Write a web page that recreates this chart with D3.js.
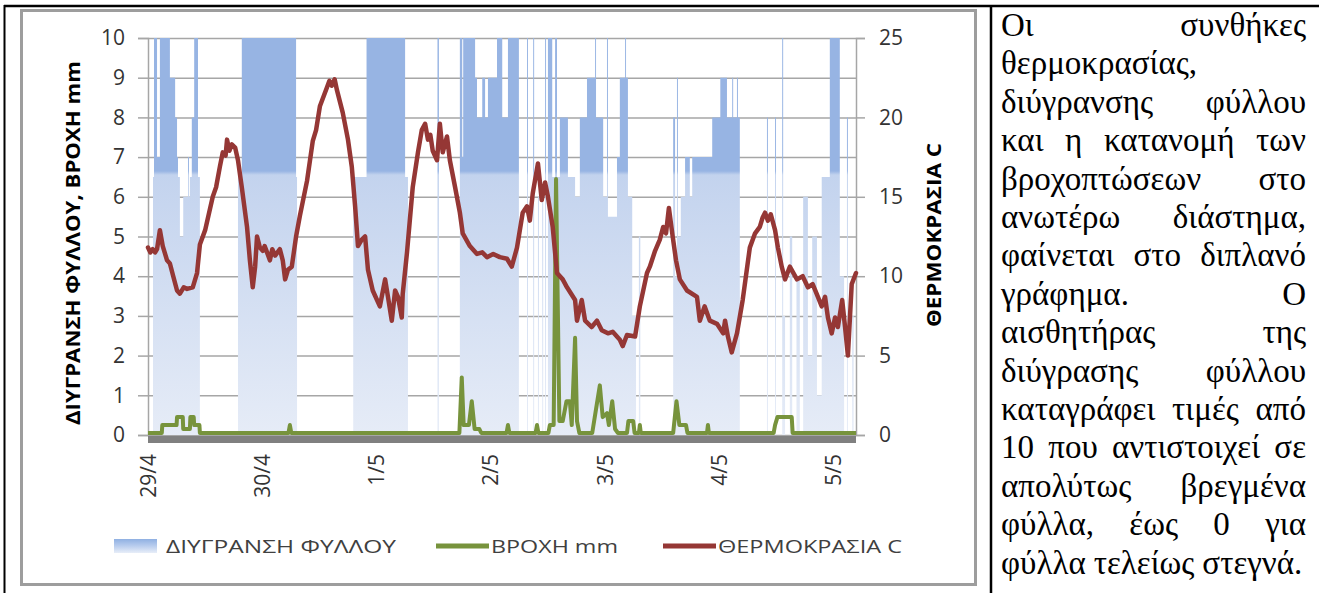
<!DOCTYPE html>
<html>
<head>
<meta charset="utf-8">
<script src="https://cdn.jsdelivr.net/npm/d3@7"></script>
<style>
body { margin: 0; background: #fff; }
.chart text { font-family: "Open Sans", "Noto Sans", sans-serif; }
.note text { font-family: "Liberation Serif", "Times New Roman", "DejaVu Serif", serif; font-size: 33px; }
</style>
</head>
<body>
<svg id="page" width="1319" height="593"></svg>
<script>
// ---- data ----
let dayLabels = ["29/4", "30/4", "1/5", "2/5", "3/5", "4/5", "5/5"];
let leftTicks = [0, 1, 2, 3, 4, 5, 6, 7, 8, 9, 10];
let rightTicks = [0, 5, 10, 15, 20, 25];
let seriesNames = ["ΔΙΥΓΡΑΝΣΗ ΦΥΛΛΟΥ", "ΒΡΟΧΗ mm", "ΘΕΡΜΟΚΡΑΣΙΑ C"];
let leftTitle = "ΔΙΥΓΡΑΝΣΗ ΦΥΛΛΟΥ,  ΒΡΟΧΗ mm";
let rightTitle = "ΘΕΡΜΟΚΡΑΣΙΑ C";

// time in hours from 29/4 00:00
let lastHour = 148.7;

// leaf wetness (0-10), value holds until the next entry
let wetness = [[0,0],[1.05,6.5],[1.26,10],[1.9,7],[2.5,10],[4.6,9],[5.7,8],[6.1,7],[6.3,6.5],[6.7,5],[7.4,6],[8.4,7],[8.6,6],[8.8,6.5],[9.2,8],[9.7,10],[10.5,6.5],[10.9,0],
	[18.9,6.5],[19.7,10],[31.1,6.5],[31.3,0],
	[43.1,6.5],[45.9,10],[54.0,6.5],[54.6,0],
	[60.8,10],[61.1,0],
	[65.5,10],[66.0,7],[66.2,10],[68.7,9],[69.1,8],[70.2,9],[70.8,8],[71.4,9],[73.3,10],[74.4,8],[75.6,10],[77.9,0],
	[79.6,10],[79.8,0],[80.9,10],[81.1,0],[81.9,6],[82.1,0],[82.8,6],[83.0,0],[83.4,10],[83.6,0],
	[84.0,10],[84.9,6.5],[85.5,10],[85.9,6.5],[86.5,8],[88.2,6.5],[89.7,6],[90.7,8],[92.2,9],[93.9,10],[94.1,8],[95.6,6],[96.4,10],[96.6,5.5],[98.5,7],[99.1,9],[100.2,10],[100.4,9],[100.8,6],[101.7,3],[102.5,0],[103.1,5],[103.4,0],
	[110.3,8],[110.7,4],[111.1,9],[111.3,5],[111.9,6],[112.8,7],[113.8,6],[114.3,7],[118.5,8],[120.2,9],[121.6,8],[122.7,9],[122.9,8],[123.7,9],[123.9,8],[124.3,0],
	[130.0,8],[130.2,0],[131.7,8],[131.9,0],[133.2,10],[133.4,3],[133.8,0],[134.8,5],[135.3,0],[136.2,4],[136.9,0],[137.6,6],[138.6,2],[139.5,5],[140.5,1],[141.5,6.5],[143.2,10],[145.3,4],[146.2,0],[146.8,8],[147.0,0],[147.9,3],[148.2,0],[148.7,0]];

// rain mm
let rain = [[0,0],[2.9,0],[3.0,0.2],[6.0,0.2],[6.1,0.4],[7.3,0.4],[7.4,0.1],[8.8,0.1],[8.9,0.4],[9.6,0.4],[9.7,0.2],[10.8,0.2],[10.9,0],
	[29.5,0],[29.8,0.2],[30.1,0],
	[65.4,0],[65.9,1.4],[66.3,0.2],[67.4,0.2],[68.0,0.8],[68.6,0.1],[69.6,0.1],[70.0,0],
	[75.3,0],[75.6,0.2],[75.9,0],
	[81.4,0],[81.7,0.2],[82.0,0],
	[84.1,0],[84.4,0.2],[85.2,0.2],[85.7,6.4],[86.4,0.3],[87.1,0.3],[87.9,0.8],[88.6,0.8],[89.0,0.2],[89.7,2.4],[90.1,0.3],[90.6,0],
	[93.3,0],[94.1,0.6],[94.9,1.2],[95.5,0.4],[96.4,0.5],[96.8,0.2],[97.5,0.8],[98.1,0.1],[98.7,0],
	[100.6,0],[100.9,0.3],[101.9,0.3],[102.2,0],[103.1,0],[103.3,0.2],[103.5,0],
	[110.3,0],[111.0,0.8],[111.6,0.2],[113.0,0.2],[113.3,0],
	[117.4,0],[117.6,0.2],[117.8,0],
	[131.4,0],[131.7,0.2],[132.2,0.4],[135.2,0.4],[135.4,0],
	[148.7,0]];

// temperature C
let temperature = [[0,11.8],[0.5,11.5],[1,11.7],[1.5,11.5],[1.9,11.7],[2.5,12.9],[3.1,11.9],[4,11],[4.6,10.8],[5.3,10.0],[6.1,9.1],[6.7,8.9],[7.5,9.3],[8.2,9.2],[9.4,9.3],[10.3,10.2],[10.9,12.0],[12,12.9],[13.6,15.0],[14.3,15.6],[15.1,16.9],[15.7,17.8],[16.3,17.6],[16.6,18.6],[17.1,17.9],[17.6,18.3],[18.3,18.1],[18.9,17.3],[19.7,15.6],[20.8,13.1],[21.4,11.0],[22.0,9.3],[22.5,10.6],[22.9,12.5],[23.5,11.8],[24.1,11.6],[24.5,11.9],[25,11.5],[25.6,11.0],[26.1,11.7],[26.7,11.3],[27.7,11.7],[28.3,11.0],[28.8,9.8],[29.4,10.4],[30.2,10.6],[31.1,12.5],[31.9,13.8],[33.4,16.0],[34.6,18.5],[35.3,19.2],[36.1,20.7],[37.6,21.9],[38.1,22.3],[38.6,22.0],[39.2,22.4],[39.7,21.7],[40.9,20.3],[42,18.6],[42.8,16.9],[43.5,14.4],[44.1,11.9],[44.9,12.3],[45.6,12.5],[46.2,10.4],[47.2,9.1],[48.7,8.1],[49.8,9.8],[50.4,8.7],[51.2,7.2],[51.9,9.1],[52.5,8.7],[53.3,7.4],[53.5,8.9],[54.4,11.5],[55.6,15.6],[56.7,17.8],[57.5,19.2],[58.2,19.6],[58.8,18.6],[59.3,18.9],[59.8,17.9],[60.7,17.3],[61.3,19.6],[61.9,17.8],[62.8,18.8],[63.4,17.3],[64.5,15.6],[65.5,14.0],[66.1,12.7],[67.6,11.9],[69.1,11.4],[70.2,11.5],[71.2,11.2],[72.5,11.4],[73.9,11.2],[75.4,11.1],[76.4,10.6],[77.5,11.8],[78.7,14.0],[79.6,14.4],[80.2,13.5],[80.8,15.2],[81.9,17.1],[82.7,14.8],[83.4,15.9],[84,15.0],[85,13.1],[85.9,10.2],[87.1,9.8],[88,9.3],[89.7,8.5],[90.1,7.2],[91.1,8.5],[91.8,7.2],[93.2,6.8],[94.3,7.2],[95.3,6.6],[96.6,6.4],[97.6,6.5],[99.1,6.0],[99.7,5.6],[100.6,6.3],[102.3,6.2],[103.3,8.1],[104.8,10.2],[105.4,10.6],[106.5,11.6],[107.5,12.3],[108.2,13.1],[108.8,12.7],[109.4,14.3],[110.2,12.5],[110.9,11.0],[111.7,9.8],[113.2,9.1],[115.3,8.7],[115.9,7.2],[116.9,8.1],[118,7.2],[119.5,7.0],[120.8,6.4],[121.2,7.2],[121.8,6.2],[122.6,5.2],[123.7,6.4],[124.9,8.5],[126.4,11.8],[127.5,12.7],[128.5,13.1],[129.1,13.7],[129.6,14.0],[130.2,13.5],[130.8,13.9],[131.7,12.9],[132.3,11.8],[133.1,10.6],[133.8,9.8],[134.8,10.6],[136.3,9.8],[137.5,10.0],[138.6,9.3],[139.6,9.5],[140.7,8.7],[141.5,8.1],[142.2,8.7],[142.8,7.4],[143.6,6.4],[144.3,7.4],[144.9,6.8],[145.8,8.5],[146.4,6.8],[147,5.0],[147.8,9.5],[148.7,10.2]];

let noteLines = ["Οι συνθήκες", "θερμοκρασίας,", "διύγρανσης φύλλου", "και η κατανομή των",
	"βροχοπτώσεων στο", "ανωτέρω διάστημα,", "φαίνεται στο διπλανό", "γράφημα. Ο",
	"αισθητήρας της", "διύγρασης φύλλου", "καταγράφει τιμές από", "10 που αντιστοιχεί σε",
	"απολύτως βρεγμένα", "φύλλα, έως 0 για", "φύλλα τελείως στεγνά."];

// ---- layout ----
let plotLeft = 148, plotRight = 856, plotTop = 38, plotBottom = 435;
let page = d3.select("#page");

let x = d3.scaleLinear().domain([0, lastHour]).range([plotLeft, plotRight]);
let yLeft = d3.scaleLinear().domain([0, 10]).range([plotBottom, plotTop]);
let yRight = d3.scaleLinear().domain([0, 25]).range([plotBottom, plotTop]);

// page table lines
page.append("line").attr("x1", 4).attr("y1", 6).attr("x2", 1319).attr("y2", 6)
	.attr("stroke", "#000").attr("stroke-width", 2.5);
page.append("line").attr("x1", 4.5).attr("y1", 5).attr("x2", 4.5).attr("y2", 593)
	.attr("stroke", "#000").attr("stroke-width", 2);
page.append("line").attr("x1", 991).attr("y1", 5).attr("x2", 991).attr("y2", 593)
	.attr("stroke", "#000").attr("stroke-width", 2.5);

let svg = page.append("g").attr("class", "chart");

// chart frame
svg.append("rect")
	.attr("x", 21.5).attr("y", 10.5).attr("width", 954).attr("height", 574)
	.attr("fill", "#fff").attr("stroke", "#9d9d9d").attr("stroke-width", 3);

// gradients
let defs = svg.append("defs");
let areaGrad = defs.append("linearGradient").attr("id", "wetGrad")
	.attr("gradientUnits", "userSpaceOnUse")
	.attr("x1", 0).attr("y1", plotTop).attr("x2", 0).attr("y2", plotBottom);
areaGrad.append("stop").attr("offset", 0).attr("stop-color", "#97b4e3");
areaGrad.append("stop").attr("offset", 0.335).attr("stop-color", "#97b4e3");
areaGrad.append("stop").attr("offset", 0.345).attr("stop-color", "#c3d3ee");
areaGrad.append("stop").attr("offset", 1).attr("stop-color", "#e6ecf7");

let legGrad = defs.append("linearGradient").attr("id", "legGrad")
	.attr("x1", 0).attr("y1", 0).attr("x2", 0).attr("y2", 1);
legGrad.append("stop").attr("offset", 0).attr("stop-color", "#8fb0e2");
legGrad.append("stop").attr("offset", 0.5).attr("stop-color", "#b9cdee");
legGrad.append("stop").attr("offset", 1).attr("stop-color", "#e8eef8");

// gridlines (behind the series)
svg.append("g")
	.attr("transform", "translate(" + plotLeft + ",0)")
	.call(d3.axisLeft(yLeft).tickValues(leftTicks).tickSize(-(plotRight - plotLeft)).tickFormat(""))
	.call(g => g.select(".domain").remove())
	.selectAll("line").attr("stroke", "#a6a6a6").attr("stroke-width", 1.5);

// leaf wetness area
let wetArea = d3.area()
	.x(function(d) { return x(d[0]); })
	.y0(yLeft(0))
	.y1(function(d) { return yLeft(d[1]); })
	.curve(d3.curveStepAfter);

svg.append("path")
	.datum(wetness)
	.attr("d", wetArea)
	.attr("fill", "url(#wetGrad)");

// left axis
let leftAxis = svg.append("g")
	.attr("transform", "translate(" + plotLeft + ",0)")
	.call(d3.axisLeft(yLeft).tickValues(leftTicks).tickSize(10).tickPadding(13));
leftAxis.select(".domain").attr("stroke", "#a6a6a6").attr("stroke-width", 1.5);
leftAxis.selectAll("line").attr("stroke", "#a6a6a6").attr("stroke-width", 1.5);
leftAxis.selectAll("text").style("font-size", "21px").attr("fill", "#333");

// right axis
let rightAxis = svg.append("g")
	.attr("transform", "translate(" + plotRight + ",0)")
	.call(d3.axisRight(yRight).tickValues(rightTicks).tickSize(9).tickPadding(14));
rightAxis.select(".domain").attr("stroke", "#a6a6a6").attr("stroke-width", 1.5);
rightAxis.selectAll("line").attr("stroke", "#a6a6a6").attr("stroke-width", 1.5);
rightAxis.selectAll("text").style("font-size", "21px").attr("fill", "#333");

// rain line
let rainLine = d3.line()
	.x(function(d) { return x(d[0]); })
	.y(function(d) { return yLeft(d[1]) - 2; });

svg.append("path")
	.datum(rain)
	.attr("d", rainLine)
	.attr("fill", "none")
	.attr("stroke", "#77933c")
	.attr("stroke-width", 4)
	.attr("stroke-linejoin", "round");

// temperature line
let tempLine = d3.line()
	.x(function(d) { return x(d[0]); })
	.y(function(d) { return yRight(d[1]); });

svg.append("path")
	.datum(temperature)
	.attr("d", tempLine)
	.attr("fill", "none")
	.attr("stroke", "#953735")
	.attr("stroke-width", 4.5)
	.attr("stroke-linejoin", "round")
	.attr("stroke-linecap", "round");

// horizontal axis band
svg.append("rect")
	.attr("x", plotLeft).attr("y", plotBottom + 1)
	.attr("width", plotRight - plotLeft).attr("height", 7)
	.attr("fill", "#808080");

// date labels
svg.append("g")
	.selectAll("text")
	.data(dayLabels)
	.enter().append("text")
	.attr("x", function(d, i) { return x(i * 24); })
	.attr("y", 454)
	.attr("dy", "0.36em")
	.attr("transform", function(d, i) { return "rotate(-90," + x(i * 24) + ",454)"; })
	.style("text-anchor", "end")
	.style("font-size", "21px")
	.attr("fill", "#333")
	.text(function(d) { return d; });

// axis titles
svg.append("text")
	.attr("x", 0).attr("y", 0)
	.attr("transform", "translate(80,243) rotate(-90)")
	.style("text-anchor", "middle")
	.style("font-weight", "bold")
	.style("font-size", "19px")
	.attr("textLength", 364)
	.attr("lengthAdjust", "spacingAndGlyphs")
	.text(leftTitle);

svg.append("text")
	.attr("x", 0).attr("y", 0)
	.attr("transform", "translate(941,235) rotate(-90)")
	.style("text-anchor", "middle")
	.style("font-weight", "bold")
	.style("font-size", "19px")
	.attr("textLength", 184)
	.attr("lengthAdjust", "spacingAndGlyphs")
	.text(rightTitle);

// legend
let legendY = 546;
svg.append("rect").attr("x", 114).attr("y", legendY - 7).attr("width", 43).attr("height", 14)
	.attr("fill", "url(#legGrad)");
svg.append("line").attr("x1", 436).attr("y1", legendY).attr("x2", 489).attr("y2", legendY)
	.attr("stroke", "#77933c").attr("stroke-width", 5);
svg.append("line").attr("x1", 663).attr("y1", legendY).attr("x2", 716).attr("y2", legendY)
	.attr("stroke", "#953735").attr("stroke-width", 5);

let legendText = [[166, 230], [491, 127], [718, 184]];
svg.append("g")
	.selectAll("text")
	.data(seriesNames)
	.enter().append("text")
	.attr("x", function(d, i) { return legendText[i][0]; })
	.attr("y", legendY)
	.attr("dy", "0.36em")
	.attr("textLength", function(d, i) { return legendText[i][1]; })
	.attr("lengthAdjust", "spacingAndGlyphs")
	.style("font-size", "19px")
	.attr("fill", "#404040")
	.text(function(d) { return d; });

// justified note text
let noteLeft = 1001, noteRight = 1306, noteTop = 36, noteStep = 38.4;
let noteG = page.append("g").attr("class", "note");

noteLines.forEach(function(line, i) {
	let words = line.split(" ");
	let y = noteTop + i * noteStep;
	let nodes = words.map(function(w) {
		return noteG.append("text").attr("y", y).attr("fill", "#000").text(w);
	});
	let widths = nodes.map(function(n) { return n.node().getComputedTextLength(); });
	let total = d3.sum(widths);
	let gap = 8;
	if (words.length > 1 && i < noteLines.length - 1) {
		gap = (noteRight - noteLeft - total) / (words.length - 1);
	}
	let cx = noteLeft;
	nodes.forEach(function(n, j) {
		n.attr("x", cx);
		cx += widths[j] + gap;
	});
});
</script>
</body>
</html>
